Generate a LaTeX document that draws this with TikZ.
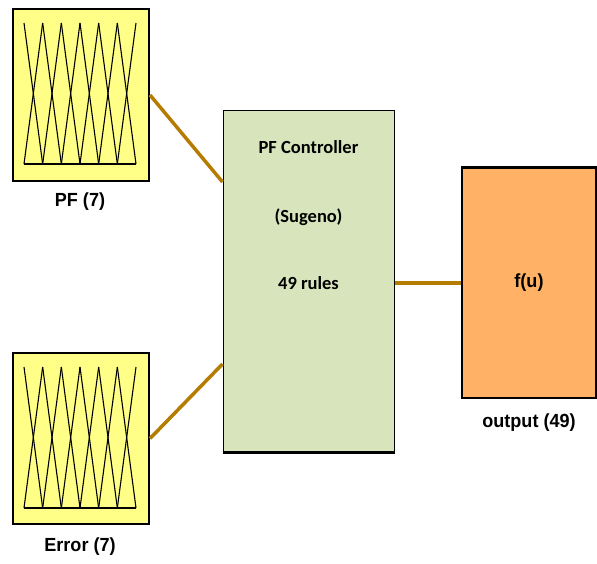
\documentclass[tikz,border=0pt]{standalone}
\usepackage{fontspec}
\setmainfont{Liberation Sans}
\newfontfamily\narrowfont[FakeStretch=0.95]{Liberation Sans}
\newfontfamily\calfont{Carlito}
\usepackage{tikz}
\usetikzlibrary{calc}
\definecolor{mfyellow}{RGB}{255,255,136}
\definecolor{ctrlgreen}{RGB}{216,228,188}
\definecolor{outorange}{RGB}{255,178,102}
\definecolor{wirebrown}{RGB}{180,124,0}
\tikzstyle{wire} = [wirebrown, line width=3.5pt]

% seven triangular membership functions inside box #1
\newcommand{\drawmfs}[1]{
    \foreach \i in {0,...,5} {
        \draw[line width=1.1pt] ($(#1.north west)+(12+18.667*\i,15)$) -- ($(#1.north west)+(30.667+18.667*\i,156)$);
        \draw[line width=1.1pt] ($(#1.north west)+(12+18.667*\i,156)$) -- ($(#1.north west)+(30.667+18.667*\i,15)$);
    }
    \draw[line width=2.2pt] ($(#1.north west)+(12,156)$) -- ($(#1.north west)+(124,156)$);
}

\begin{document}
\begin{tikzpicture}[x=1pt, y=-1pt,
    mfbox/.style={rectangle, draw, line width=2pt, fill=mfyellow, minimum width=136pt, minimum height=172pt, inner sep=0pt},
    label/.style={font=\narrowfont\bfseries\fontsize{19}{19}\selectfont, inner sep=0pt},
    ctrltext/.style={font=\calfont\bfseries\fontsize{18.5}{18.5}\selectfont, inner sep=0pt}]
    \useasboundingbox (0,0) rectangle (597,563);

    \node[mfbox] (pf) at (81,95) {};
    \drawmfs{pf}
    \node[label] (pflabel) at (80,202) {PF (7)};

    \node[mfbox, minimum height=171pt] (err) at (81,438.5) {};
    \drawmfs{err}
    \node[label] (errlabel) at (80,547) {Error (7)};

    \node[rectangle, draw, line width=1pt, fill=ctrlgreen, minimum width=171pt, minimum height=342pt, inner sep=0pt] (ctrl) at (308.5,281) {};
    \draw[line width=3pt] (ctrl.south west) -- (ctrl.south east);
    \node[ctrltext] (ctrlname) at (308.5,147) {PF Controller};
    \node[ctrltext] (ctrltype) at (308.5,217) {(Sugeno)};
    \node[ctrltext] (ctrlrules) at (308.5,283) {49 rules};

    \node[rectangle, draw, line width=2pt, fill=outorange, minimum width=134pt, minimum height=230pt, inner sep=0pt, label] (out) at (529,283) {f(u)};
    \draw[line width=3pt] (out.north west) -- (out.north east);
    \node[label] (outlabel) at (529,423) {output (49)};

    \draw[wire] (pf.east) -- ([yshift=99pt]ctrl.west);
    \draw[wire] (err.east) -- ([yshift=-83pt]ctrl.west);
    \draw[wire] ([yshift=-2pt]ctrl.east) -- ([yshift=-2pt]ctrl.east -| out.west);
\end{tikzpicture}
\end{document}
